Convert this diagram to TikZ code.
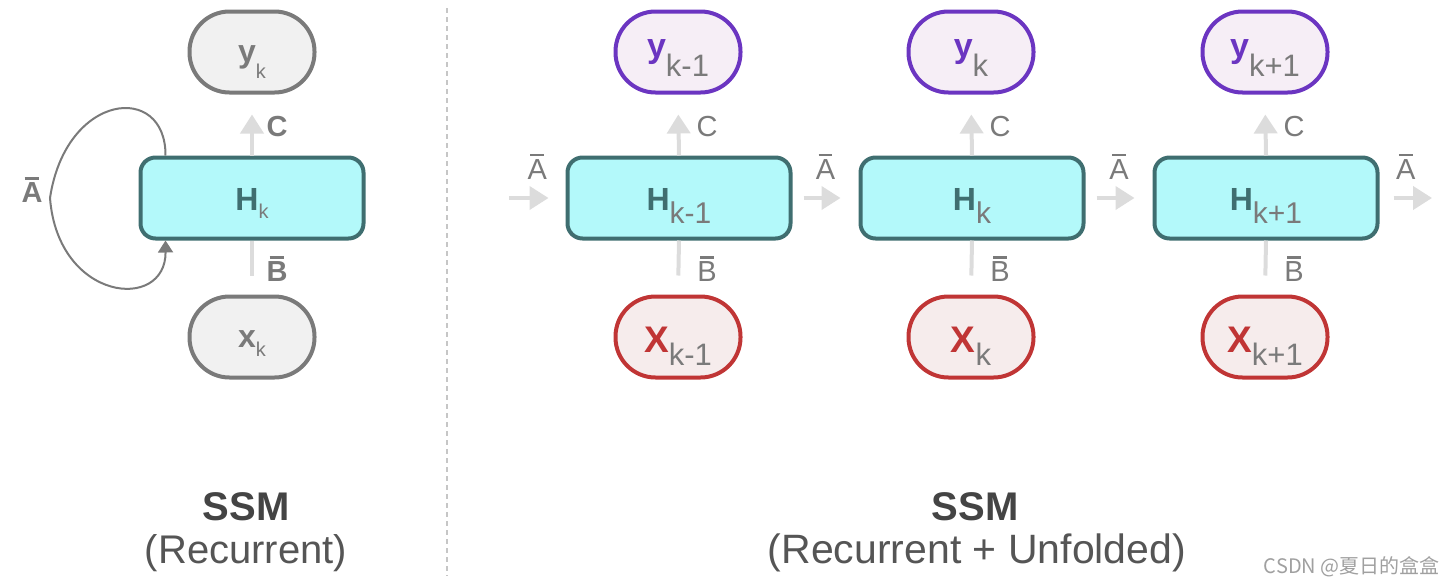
\documentclass[tikz,border=0pt]{standalone}
\usepackage{fontspec}
\setmainfont{Liberation Sans}
\newfontfamily\cjkfont{Noto Sans CJK SC}
\usetikzlibrary{arrows.meta,positioning,calc}
\definecolor{ssmgray}{HTML}{7A7A7A}
\definecolor{ssmlight}{HTML}{F1F1F1}
\definecolor{ssmcyan}{HTML}{B3F9FA}
\definecolor{ssmteal}{HTML}{3F6E70}
\definecolor{ssmpurple}{HTML}{6B35C1}
\definecolor{ssmpink}{HTML}{F6EEF6}
\definecolor{ssmred}{HTML}{C03535}
\definecolor{ssmrose}{HTML}{F6ECEC}
\definecolor{ssmarrow}{HTML}{DCDCDC}
\definecolor{ssmdark}{HTML}{444444}
\definecolor{ssmtext}{HTML}{555555}
\definecolor{ssmmark}{HTML}{A0A0A0}
\newcommand{\barred}[1]{\setbox0\hbox{#1}\leavevmode\vbox{\offinterlineskip
  \hbox to \wd0{\hss\vrule height 1.1pt depth 0pt width 0.7\wd0\hss}\kern1.6pt\box0}}
\newcommand{\lowsub}[3]{\raisebox{-#1}{\fontsize{#2}{#2}\selectfont\mdseries\color{ssmgray}#3}}

\begin{document}
\begin{tikzpicture}[
  x=0.5pt,y=-0.5pt,
  pill/.style={draw,line width=2pt,rounded corners=20pt,minimum width=62.5pt,
               minimum height=40.5pt,inner sep=0pt,text depth=0pt},
  graypill/.style={pill,draw=ssmgray,fill=ssmlight,text=ssmgray,text height=10pt,
                   font=\fontsize{16}{16}\selectfont\bfseries},
  outpill/.style={pill,draw=ssmpurple,fill=ssmpink,text=ssmpurple,text height=5.6pt,
                  font=\fontsize{17}{17}\selectfont\bfseries},
  inpill/.style={pill,draw=ssmred,fill=ssmrose,text=ssmred,text height=15pt,
                 font=\fontsize{18.5}{18.5}\selectfont\bfseries},
  statebox/.style={draw=ssmteal,fill=ssmcyan,line width=2pt,rounded corners=7.5pt,
                   minimum width=111.5pt,minimum height=40.5pt,inner sep=0pt,
                   text=ssmteal,text height=12pt,text depth=0pt,
                   font=\fontsize{16}{16}\selectfont\bfseries},
  flow/.style={draw=ssmarrow,line width=2pt,-{Triangle[width=11.5pt,length=9.5pt]}},
  feed/.style={draw=ssmarrow,line width=2pt},
  loopback/.style={draw=ssmgray,line width=1pt,-{Triangle[width=7.5pt,length=6pt]}},
  mlabel/.style={text=ssmgray,font=\fontsize{14.5}{14.5}\selectfont,inner sep=0pt},
  caption/.style={text=ssmtext,font=\fontsize{20}{20}\selectfont,inner sep=0pt},
]
  \useasboundingbox (0,0) rectangle (1456,584);

  % recurrent view
  \node[statebox] (hl) at (252,198) {H\lowsub{4pt}{10pt}{k}};
  \node[graypill] (yl) at (252,52) {y\lowsub{8pt}{10pt}{k}};
  \node[graypill] (xl) at (252,337) {x\lowsub{4.5pt}{10pt}{k}};
  \draw[flow,shorten >=10pt] (hl.north) -- (yl.south);
  \draw[feed,shorten <=9.5pt] (xl.north) -- (hl.south);
  \node[mlabel,font=\fontsize{14.5}{14.5}\selectfont\bfseries] (cl) at (277,127) {C};
  \node[mlabel,font=\fontsize{14.5}{14.5}\selectfont\bfseries] (bl) at (277,269) {\barred{B}};
  \draw[loopback] ($(hl.north west)+(27,0)$) .. controls (166,82) and (66,92) .. (50,198)
    .. controls (58,302) and (166,312) .. ($(hl.south west)+(27,0)$);
  \node[mlabel,font=\fontsize{14.5}{14.5}\selectfont\bfseries] (al) at (32,190) {\barred{A}};

  % divider
  \draw[draw=ssmarrow!90!black,line width=1pt,dash pattern=on 2.5pt off 2pt] (447,8) -- (447,576);

  % unfolded view
  \node[statebox] (h1) at (679,198) {H\lowsub{6.5pt}{15pt}{k-1}};
  \node[statebox] (h2) at (972,198) {H\lowsub{6.5pt}{15pt}{k}};
  \node[statebox] (h3) at (1266,198) {H\lowsub{6.5pt}{15pt}{k+1}};

  \node[outpill] (y1) at (678,52) {y\lowsub{9.5pt}{15.5pt}{k-1}};
  \node[outpill] (y2) at (971,52) {y\lowsub{9.5pt}{15.5pt}{k}};
  \node[outpill] (y3) at (1265,52) {y\lowsub{9.5pt}{15.5pt}{k+1}};

  \node[inpill] (x1) at (678,337) {X\lowsub{6.5pt}{15.5pt}{k-1}};
  \node[inpill] (x2) at (971,337) {X\lowsub{6.5pt}{15.5pt}{k}};
  \node[inpill] (x3) at (1265,337) {X\lowsub{6.5pt}{15.5pt}{k+1}};

  \draw[flow,shorten >=10pt] (h1.north) -- (y1.south);
  \draw[flow,shorten >=10pt] (h2.north) -- (y2.south);
  \draw[flow,shorten >=10pt] (h3.north) -- (y3.south);
  \draw[feed,shorten <=9.5pt] (x1.north) -- (h1.south);
  \draw[feed,shorten <=9.5pt] (x2.north) -- (h2.south);
  \draw[feed,shorten <=9.5pt] (x3.north) -- (h3.south);

  \node[mlabel] (c1) at (707,127) {C};
  \node[mlabel] (c2) at (1000,127) {C};
  \node[mlabel] (c3) at (1294,127) {C};
  \node[mlabel] (b1) at (707,269) {\barred{B}};
  \node[mlabel] (b2) at (1000,269) {\barred{B}};
  \node[mlabel] (b3) at (1294,269) {\barred{B}};

  % state transitions
  \coordinate (ain) at (509,198);
  \coordinate (aout) at (1432,198);
  \draw[flow,shorten >=8.5pt] (ain) -- (h1.west)
    node[mlabel,midway,yshift=15.75pt] (a0) {\barred{A}};
  \draw[flow,shorten <=5.5pt,shorten >=9pt] (h1.east) -- (h2.west)
    node[mlabel,midway,yshift=15.75pt] (a1) {\barred{A}};
  \draw[flow,shorten <=5.5pt,shorten >=9pt] (h2.east) -- (h3.west)
    node[mlabel,midway,yshift=15.75pt] (a2) {\barred{A}};
  \draw[flow,shorten <=7pt] (h3.east) -- (aout)
    node[mlabel,midway,yshift=15.75pt] (a3) {\barred{A}};

  % captions
  \node[caption,text=ssmdark,font=\fontsize{20}{20}\selectfont\bfseries] (t1) at (246,507) {SSM};
  \node[caption] (s1) at (246,553) {(Recurrent)};
  \node[caption,text=ssmdark,font=\fontsize{20}{20}\selectfont\bfseries] (t2) at (975,507) {SSM};
  \node[caption,font=\fontsize{20.5}{20.5}\selectfont] (s2) at (977,553) {(Recurrent + Unfolded)};
  \node[text=ssmmark,font=\fontsize{10}{10}\selectfont\cjkfont,anchor=east,inner sep=0pt]
    (mark) at (1440,567) {CSDN @夏日的盒盒};
\end{tikzpicture}
\end{document}
